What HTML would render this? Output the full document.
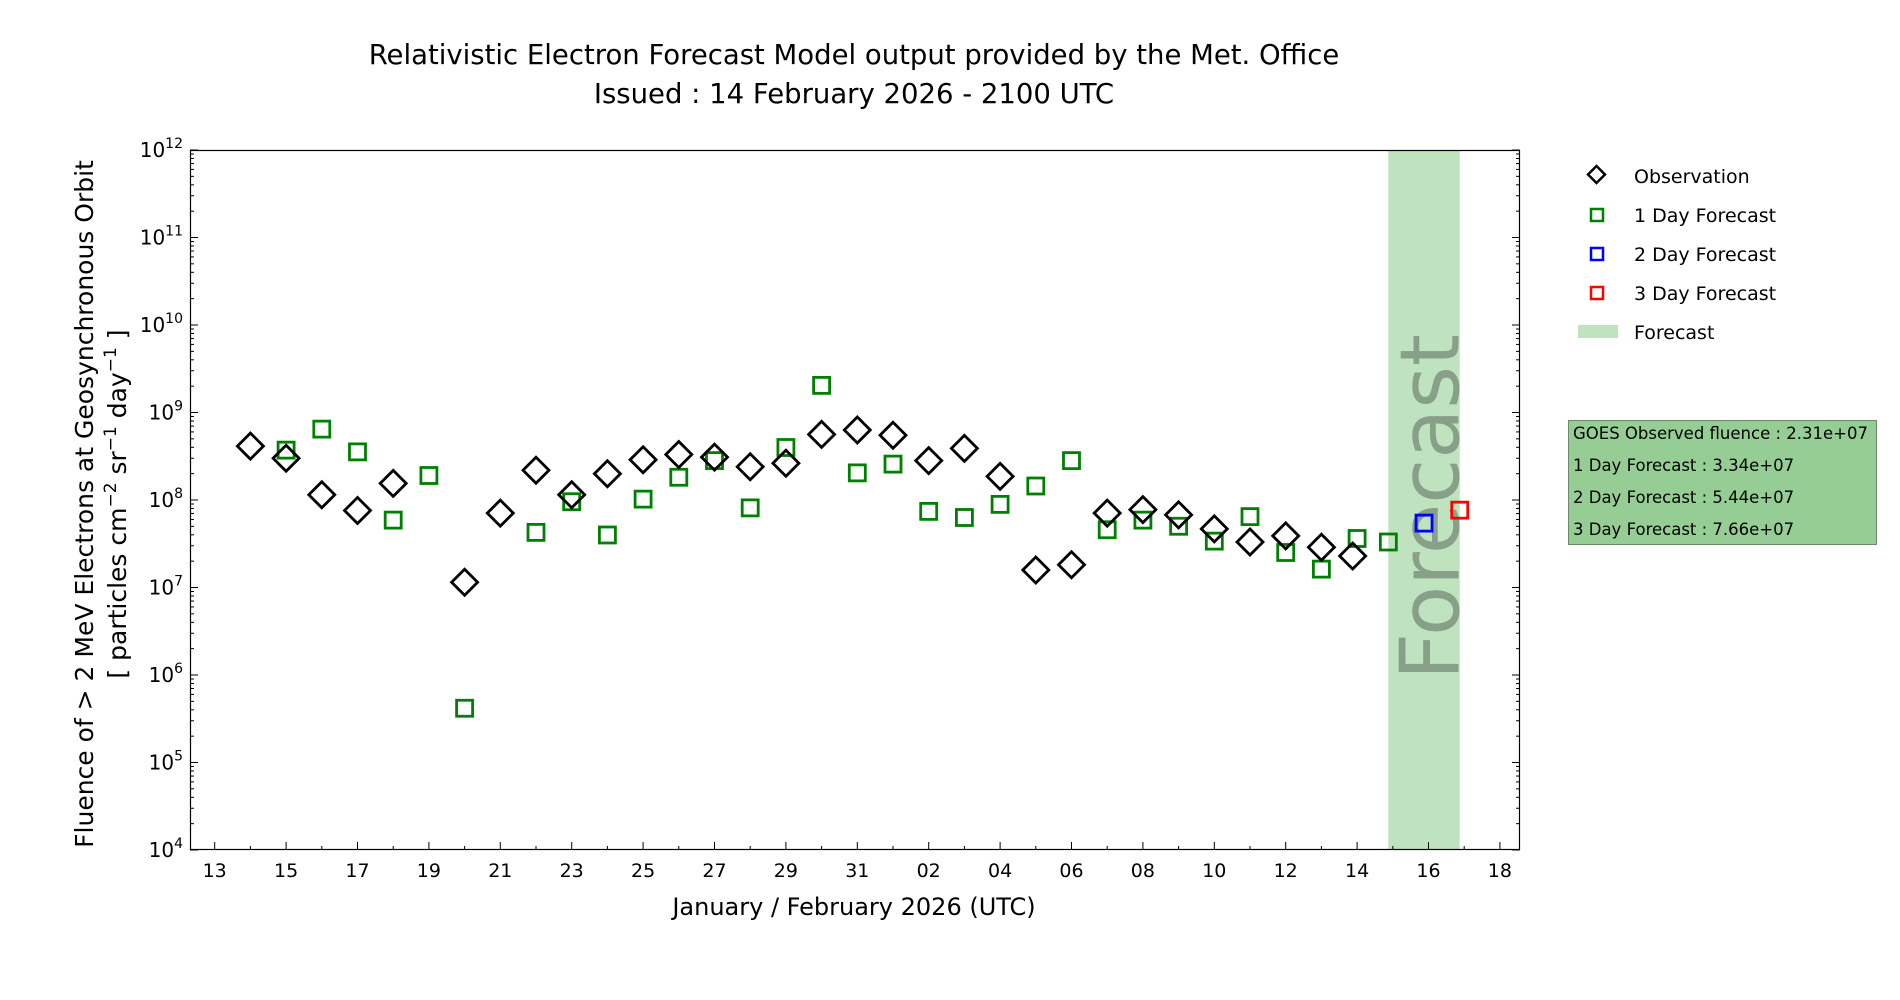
<!DOCTYPE html>
<html><head><meta charset="utf-8"><style>
html,body{margin:0;padding:0;background:#fff;}
svg{display:block;font-family:"DejaVu Sans","Liberation Sans",sans-serif;}
</style></head><body>
<svg id="chart" width="1900" height="1000" viewBox="0 0 1900 1000" xmlns="http://www.w3.org/2000/svg">
<text x="854" y="64" font-size="27.5" text-anchor="middle">Relativistic Electron Forecast Model output provided by the Met. Office</text>
<text x="854" y="103" font-size="27.5" text-anchor="middle">Issued : 14 February 2026 - 2100 UTC</text>
<g id="plot"></g>
<text x="854" y="915" font-size="24" text-anchor="middle">January / February 2026 (UTC)</text>
<g font-size="25" text-anchor="middle">
<text transform="translate(93,504) rotate(-90)">Fluence of &gt; 2 MeV Electrons at Geosynchronous Orbit</text>
<text transform="translate(126,504) rotate(-90)">[ particles cm<tspan dy="-10" font-size="17">−2</tspan><tspan dy="10"> sr</tspan><tspan dy="-10" font-size="17">−1</tspan><tspan dy="10"> day</tspan><tspan dy="-10" font-size="17">−1</tspan><tspan dy="10"> ]</tspan></text>
</g>
<g font-size="19">
<g><rect x="1590.5" y="168.5" width="12" height="12" transform="rotate(45 1596.5 174.5)" fill="none" stroke="#000" stroke-width="2.5"/><text x="1634" y="183">Observation</text></g>
<g><rect x="1591" y="209" width="12" height="12" fill="none" stroke="#008000" stroke-width="2.5"/><text x="1634" y="222">1 Day Forecast</text></g>
<g><rect x="1591" y="248" width="12" height="12" fill="none" stroke="#0000ff" stroke-width="2.5"/><text x="1634" y="261">2 Day Forecast</text></g>
<g><rect x="1591" y="287" width="12" height="12" fill="none" stroke="#ff0000" stroke-width="2.5"/><text x="1634" y="300">3 Day Forecast</text></g>
<g><rect x="1578" y="325" width="40" height="13" fill="#bfe3bf"/><text x="1634" y="339">Forecast</text></g>
</g>
<g font-size="16.5">
<rect x="1568.5" y="420.5" width="308" height="124" fill="#95cd95" stroke="#6a8a6a" stroke-width="1"/>
<text x="1573" y="439">GOES Observed fluence : 2.31e+07</text>
<text x="1573" y="471">1 Day Forecast : 3.34e+07</text>
<text x="1573" y="503">2 Day Forecast : 5.44e+07</text>
<text x="1573" y="535">3 Day Forecast : 7.66e+07</text>
</g>
</svg>
<script>
// day index: 0 = 13 Jan 2026
const obsDays = [1,2,3,4,5,7,8,9,10,11,12,13,14,15,16,17,18,19,20,21,22,23,24,25,26,27,28,29,30,31,31.875];
const obsLog  = [8.616,8.477,8.06,7.88,8.19,7.06,7.85,8.34,8.06,8.30,8.46,8.52,8.49,8.38,8.42,8.75,8.80,8.74,8.45,8.59,8.27,7.20,7.26,7.85,7.89,7.83,7.67,7.52,7.59,7.46,7.36];
const fc1Days = [2,3,4,5,6,7,9,10,11,12,13,14,15,16,17,18,19,20,21,22,23,24,25,26,27,28,29,30,31,32,32.875];
const fc1Log  = [8.57,8.81,8.55,7.77,8.28,5.62,7.63,7.98,7.60,8.01,8.26,8.45,7.91,8.60,9.31,8.31,8.41,7.87,7.80,7.95,8.16,8.45,7.66,7.77,7.70,7.53,7.81,7.40,7.21,7.56,7.52];
const fc2Days = [33.875];
const fc2Log  = [7.736];
const fc3Days = [34.875];
const fc3Log  = [7.884];
const bandStart = 32.875, bandEnd = 34.875;
const xTickLabels = ["13","15","17","19","21","23","25","27","29","31","02","04","06","08","10","12","14","16","18"];
const yTickExps = [4,5,6,7,8,9,10,11,12];

const L=190,R=1520,T=150,B=850;
const xOf = d => 214.7 + d*35.7;
const yOf = lg => B - (lg-4)*(B-T)/8;
const NS="http://www.w3.org/2000/svg";
const plot=document.getElementById('plot');
function mk(tag,attrs,parent){const e=document.createElementNS(NS,tag);for(const k in attrs)e.setAttribute(k,attrs[k]);(parent||plot).appendChild(e);return e;}

const band=mk('rect',{x:xOf(bandStart),y:T,width:xOf(bandEnd)-xOf(bandStart),height:B-T,fill:'#bfe3bf'});


const bt=mk('text',{transform:`translate(${xOf(bandEnd)-1},680) rotate(-90)`,'font-size':82,fill:'#88a088',textLength:346,'font-family':'DejaVu Sans, Liberation Sans, sans-serif'});
bt.textContent='Forecast';



for(let i=0;i<=36;i++){
  const x=xOf(i), major=i%2===0, len=major?8:4;
  const t=mk('line',{x1:x,x2:x,y1:B,y2:B-len,stroke:'#000','stroke-width':1});
  
  
  if(major){
    const lb=mk('text',{x:x,y:B+27,'font-size':19,'text-anchor':'middle'});
    lb.textContent=xTickLabels[i/2];
    
    
  }
}
yTickExps.forEach(e=>{
  const y=yOf(e);
  [[L,L+8],[R,R-8]].forEach(([a,b])=>{
    const t=mk('line',{x1:a,x2:b,y1:y,y2:y,stroke:'#000','stroke-width':1});
    
    
  });
  const lb=mk('text',{x:183,y:y+7,'font-size':20,'text-anchor':'end'});
  lb.innerHTML='10<tspan dy="-9" font-size="14">'+e+'</tspan>';
  
  
  if(e<12){for(let m=2;m<=9;m++){
    const y2=yOf(e+Math.log10(m));
    [[L,L+4],[R,R-4]].forEach(([a,b])=>{
      const t=mk('line',{x1:a,x2:b,y1:y2,y2:y2,stroke:'#000','stroke-width':1});
      
      
    });
  }}
});

function squares(days,vals,color,name){
  days.forEach((d,i)=>{
    const x=xOf(d),y=yOf(vals[i]);
    const r=mk('rect',{x:x-8,y:y-8,width:16,height:16,fill:'none',stroke:color,'stroke-width':2.8});
    
    
  });
}
squares(fc1Days,fc1Log,'#008000','one-day-forecast-point');
obsDays.forEach((d,i)=>{
  const x=xOf(d),y=yOf(obsLog[i]);
  const p=mk('polygon',{points:`${x},${y-13} ${x+13},${y} ${x},${y+13} ${x-13},${y}`,fill:'none',stroke:'#000','stroke-width':2.8});
  
  
});
squares(fc2Days,fc2Log,'#0000ff','two-day-forecast-point');
squares(fc3Days,fc3Log,'#ff0000','three-day-forecast-point');

const fr=mk('rect',{x:L+0.5,y:T+0.5,width:R-L-1,height:B-T-1,fill:'none',stroke:'#000','stroke-width':1.2});


</script>
</body></html>
